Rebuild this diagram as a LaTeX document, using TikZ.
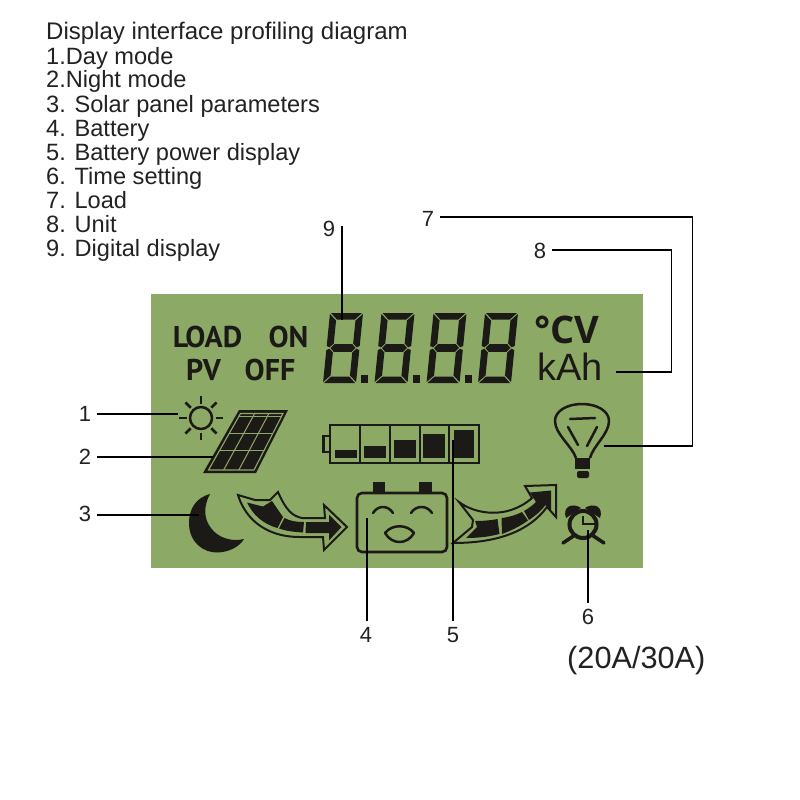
\documentclass[tikz,border=0pt]{standalone}
\usepackage{fontspec}
\setmainfont{Liberation Sans}
\newfontfamily\lcdf{PT Sans}
\newfontfamily\unitf{Open Sans}
\usetikzlibrary{calc}
\definecolor{lcd}{HTML}{8DA966}
\definecolor{ink}{HTML}{1C1A17}
\definecolor{capt}{HTML}{222222}
\newcommand{\fs}[1]{\fontsize{#1}{#1}\selectfont}
\tikzset{
  x=1pt,y=-1pt,
  captline/.style={anchor=base west,inner sep=0pt,text=capt,font=\fs{23.6}},
  numlabel/.style={inner sep=6pt,text=capt,font=\fs{22}},
  lead/.style={draw=black,line width=1.8pt,line join=miter},
  lcdword/.style={anchor=center,inner sep=0pt,text=ink,font=\lcdf\fs{30}\bfseries},
  sym/.style={draw=ink,line width=2.5pt,line cap=round,line join=round},
  gapline/.style={draw=lcd,line width=1pt},
  arrowline/.style={draw=ink,line width=2pt,line join=miter,fill=lcd},
}
\newcommand{\lcddigit}[1]{%
  \begin{scope}[shift={(#1+7,313)},xslant=0.1]
    \fill[ink] (1,0)--(32,0)--(25.5,6.5)--(7.5,6.5)--cycle;
    \fill[ink] (1,70)--(32,70)--(25.5,63.5)--(7.5,63.5)--cycle;
    \fill[ink] (4,35)--(7.5,31.2)--(25.5,31.2)--(29,35)--(25.5,38.8)--(7.5,38.8)--cycle;
    \fill[ink] (0,1)--(6.8,7.5)--(6.8,30.5)--(3,34.3)--(0,33)--cycle;
    \fill[ink] (33,1)--(26.2,7.5)--(26.2,30.5)--(30,34.3)--(33,33)--cycle;
    \fill[ink] (0,69)--(6.8,62.5)--(6.8,39.5)--(3,35.7)--(0,37)--cycle;
    \fill[ink] (33,69)--(26.2,62.5)--(26.2,39.5)--(30,35.7)--(33,37)--cycle;
  \end{scope}}
\begin{document}
\begin{tikzpicture}
\useasboundingbox (0,0) rectangle (800,800);
\fill[white] (0,0) rectangle (800,800);
\fill[lcd] (151,294) rectangle (643,568);

% caption
\node[captline,font=\fs{24}] (t0) at (46,40) {Display interface profiling diagram};
\node[captline] (t1) at (46,64) {1.Day mode};
\node[captline] (t2) at (46,88) {2.Night mode};
\node[captline] (t3) at (46,112) {3. Solar panel parameters};
\node[captline] (t4) at (46,136) {4. Battery};
\node[captline] (t5) at (46,160) {5. Battery power display};
\node[captline] (t6) at (46,184) {6. Time setting};
\node[captline] (t7) at (46,208) {7. Load};
\node[captline] (t8) at (46,232) {8. Unit};
\node[captline] (t9) at (46,256) {9. Digital display};
\node[anchor=base west,inner sep=0pt,text=capt,font=\fs{30.7}] (model) at (567,668) {(20A/30A)};

% LCD words
\node[lcdword] (wload) at (207.5,337) {LOAD};
\node[lcdword] (won) at (288.5,337) {ON};
\node[lcdword] (wpv) at (203.5,370) {PV};
\node[lcdword] (woff) at (270,370) {OFF};
\node[anchor=base west,inner sep=0pt,text=ink,font=\unitf\fs{38}\bfseries] (wcv) at (534,343) {°CV};
\node[anchor=base west,inner sep=0pt,text=ink,font=\fs{38}] (wkah) at (537,380) {kAh};

% digits
\lcddigit{323}\lcddigit{374.5}\lcddigit{426.5}\lcddigit{478}
\fill[ink] (361,375) rectangle (368,383);
\fill[ink] (412.5,375) rectangle (419.5,383);
\fill[ink] (465,375) rectangle (472,383);

% sun
\draw[sym] (201,418) circle (11);
\foreach \a in {0,45,...,315}
  \draw[sym,line cap=butt] ($(201,418)+(\a:14.5)$) -- ($(201,418)+(\a:22)$);

% solar panel
\fill[ink] (239,410)--(288,410)--(256,473)--(203,473)--cycle;
\draw[lcd,line width=1.1pt] (240.5,413.5)--(283,413.5)--(254,470)--(208.5,470)--cycle;
\foreach \f in {0.05,0.35,0.65}
  \draw[gapline] ($(240.5,413.5)!\f!(208.5,470)$) -- ($(283,413.5)!\f!(254,470)$);
\foreach \f in {0.333,0.667}
  \draw[gapline] ($(240.5,413.5)!\f!(283,413.5)$) -- ($(208.5,470)!\f!(254,470)$);

% battery gauge
\draw[ink,line width=2.5pt] (330,425) rectangle (479,463);
\draw[ink,line width=2.5pt] (330,436)--(323.5,436)--(323.5,452)--(330,452);
\foreach \x in {360,390,420,449} \draw[ink,line width=2.5pt] (\x,425)--(\x,463);
\fill[ink] (335,449.5) rectangle (357,458);
\fill[ink] (363.5,446) rectangle (386,458);
\fill[ink] (394,440) rectangle (416,458);
\fill[ink] (423,434) rectangle (445,458);
\fill[ink] (454,430) rectangle (474,458);

% moon
\fill[ink] (210,494) .. controls (195,498) and (189,510) .. (189,523)
  .. controls (189,542) and (203,553) .. (218,552.5)
  .. controls (230,552) and (240,546) .. (244,539)
  .. controls (232,542) and (218,538) .. (211,528)
  .. controls (203,518) and (204,505) .. (210,494) -- cycle;

% left arrow
\draw[arrowline] (238,495)
  .. controls (244,515) and (262,537) .. (300,537) -- (323,537)
  -- (324,550) -- (347,527) -- (324,505) -- (325,518) -- (302,518)
  .. controls (292,516) and (286,510) .. (278,492)
  -- (270,500) -- (255,500) -- cycle;
\fill[ink] (247,502.5) -- (263,506.5) -- (272,501) -- (283,517) -- (277.5,528)
  .. controls (263,524) and (253,515) .. (247,502.5) -- cycle;
\fill[ink] (284.5,518) .. controls (290,521) and (296,522) .. (304,522)
  -- (303,532.5) .. controls (294,532) and (286,531) .. (279,528.5) -- cycle;
\fill[ink] (306,522) -- (329,522) -- (329,514.5) -- (341.5,527) -- (329,540.5)
  -- (329,533) -- (305.5,533) -- cycle;

% right arrow
\draw[arrowline] (459,502)
  .. controls (475,514) and (507,520) .. (532,498)
  -- (525,486) -- (556,485) -- (556,517) -- (547,507)
  .. controls (530,530) and (500,543) .. (453,543)
  -- (472,527) -- (473,520) -- cycle;
\fill[ink] (475,521) .. controls (482,521) and (490,520.5) .. (497.5,519)
  -- (499.5,534) .. controls (488,537) and (477,538) .. (466,538) -- (477,527) -- cycle;
\fill[ink] (501.5,518) .. controls (510,517) and (516,515) .. (522,512)
  -- (528,520.5) .. controls (519,527) and (510,531) .. (502,534) -- cycle;
\fill[ink] (524,511) .. controls (529,508) and (533,505) .. (536,502)
  -- (530,492.5) -- (551,490.5) -- (551,511) -- (545.5,505)
  .. controls (540,512) and (535,516) .. (529,520) -- cycle;

% battery icon
\draw[ink,line width=2.6pt,rounded corners=5pt] (357,493) rectangle (447,552);
\fill[ink] (373,482) rectangle (385,492);
\fill[ink] (419,482) rectangle (432,492);
\draw[sym] (373,513) .. controls (378,505) and (388,505) .. (393,513);
\draw[sym] (411,513) .. controls (416,505) and (427,505) .. (432,513);
\draw[sym] (385,533) .. controls (392,524) and (407,524) .. (414,533);
\draw[sym] (385,533) .. controls (392,545) and (407,545) .. (414,533);

% bulb
\draw[ink,line width=2.5pt,line join=round] (576,458)
  .. controls (572,446) and (555,434) .. (555,421)
  .. controls (555,411) and (567,404) .. (582,404)
  .. controls (597,404) and (609,411) .. (609,421)
  .. controls (609,434) and (593,446) .. (590,458);
\draw[sym] (570,419)--(595,418);
\draw[sym] (568,427)--(578,445);
\draw[sym] (597,427)--(587,446);
\fill[ink] (575,458) rectangle (590,469);
\fill[ink,rounded corners=2pt] (577,471) rectangle (589,478);

% clock
\fill[ink] (566,518) .. controls (562,507) and (572,502) .. (581,508) -- cycle;
\fill[ink] (600,518) .. controls (604,507) and (594,502) .. (585,508) -- cycle;
\draw[ink,line width=4pt,fill=lcd] (583,524.5) circle (13.5);
\draw[ink,line width=3.5pt,line cap=round] (563,543)--(575,535);
\draw[ink,line width=3.5pt,line cap=round] (604,543)--(592,535);
\draw[ink,line width=2pt] (583,516)--(583,523.5)--(597,523.5);

% label numbers
\node[numlabel] (n1) at (85,414) {1};
\node[numlabel] (n2) at (85,457) {2};
\node[numlabel] (n3) at (85,514) {3};
\node[numlabel] (n4) at (366,635) {4};
\node[numlabel] (n5) at (453,635) {5};
\node[numlabel] (n6) at (588,617) {6};
\node[numlabel] (n7) at (428,219) {7};
\node[numlabel] (n8) at (540,251) {8};
\node[numlabel] (n9) at (329,229) {9};

% connector ends
\coordinate (e1) at (178,414);
\coordinate (e2) at (213,457);
\coordinate (e3) at (199,515);
\coordinate (e4) at (367,518);
\coordinate (e5) at (453,440);
\coordinate (e6) at (588,530);
\coordinate (a7) at (692.5,217);
\coordinate (b7) at (692.5,446);
\coordinate (e7) at (604,446);
\coordinate (a8) at (671.5,250);
\coordinate (b8) at (671.5,372);
\coordinate (e8) at (616,372);
\coordinate (a9) at (342,226);
\coordinate (e9) at (342,320);

% connectors
\draw[lead] (n1.east |- e1) -- (e1);
\draw[lead] (n2.east |- e2) -- (e2);
\draw[lead] (n3.east |- e3) -- (e3);
\draw[lead] (e4 |- n4.north) -- (e4);
\draw[lead] (e5 |- n5.north) -- (e5);
\draw[lead] (e6 |- n6.north) -- (e6);
\draw[lead] (n7.east |- a7) -- (a7) -- (b7) -- (e7);
\draw[lead] (n8.east |- a8) -- (a8) -- (b8) -- (e8);
\draw[lead] (a9) -- (e9);
\end{tikzpicture}
\end{document}
